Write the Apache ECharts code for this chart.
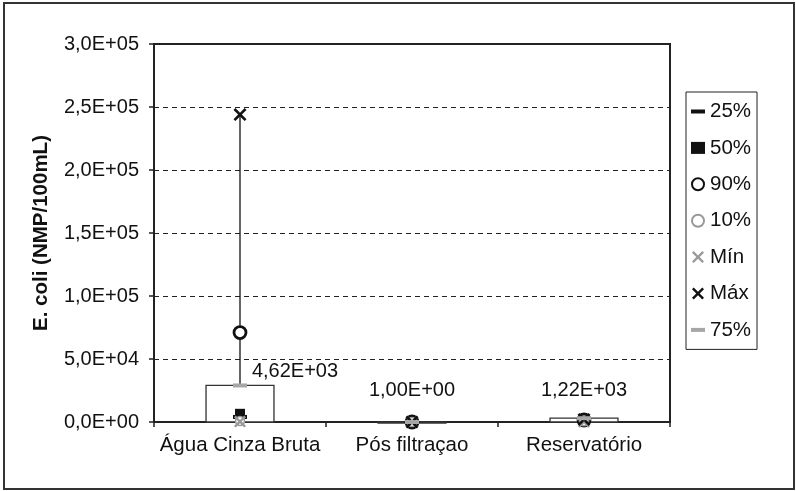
<!DOCTYPE html>
<html>
<head>
<meta charset="utf-8">
<script src="https://cdn.jsdelivr.net/npm/echarts@6/dist/echarts.min.js"></script>
<style>
html,body{margin:0;padding:0;background:#fff;}
#c{width:796px;height:491px;}
</style>
</head>
<body>
<div id="c"></div>
<script>
// ---- data ----
var categories = ['Água Cinza Bruta', 'Pós filtraçao', 'Reservatório'];
var p25 = [4000, 1, 900];
var p50 = [6500, 1, 1220];
var p90 = [71000, 1, 1600];
var p10 = [800, 1, 600];
var pMin = [300, 1, 100];
var pMax = [244000, 1, 2000];
var p75 = [29000, 1, 3000];
var labelValues = [4620, 1, 1220];
var yTicks = { min: 0, max: 300000, step: 50000 };

function sciFmt(v, digits) {
  var s = Number(v).toExponential(digits);
  var parts = s.split('e');
  var mant = parts[0].replace('.', ',');
  var exp = parseInt(parts[1], 10);
  var sign = exp < 0 ? '-' : '+';
  var e = Math.abs(exp);
  return mant + 'E' + sign + (e < 10 ? '0' + e : '' + e);
}

var FONT = 'Liberation Sans, Arial, sans-serif';
var X_PATH = 'path://M0,2L2,0L7,5L12,0L14,2L9,7L14,12L12,14L7,9L2,14L0,12L5,7Z';
var DASH_PATH = 'path://M0,0H14V4H0Z';
var labelOffsets = [[55, 0], [0, -18], [0, -14]];

var chart = echarts.init(document.getElementById('c'), null, { renderer: 'canvas' });

function markerSeries(name, data, symbol, size, style, z) {
  style.opacity = 1;
  return {
    name: name, type: 'scatter', data: data, symbol: symbol, symbolSize: size,
    itemStyle: style, z: z, silent: true
  };
}

var s75 = markerSeries('75%', p75, DASH_PATH, [14, 4], { color: '#a6a6a6' }, 17);
s75.label = {
  show: true, position: 'top', distance: 2,
  fontFamily: FONT, fontSize: 20, color: '#111', opacity: 1,
  formatter: function (p) { return sciFmt(labelValues[p.dataIndex], 2); }
};
s75.data = p75.map(function (v, i) {
  return { value: v, label: { offset: labelOffsets[i], color: '#111' } };
});

var option = {
  animation: false,
  backgroundColor: '#fff',
  grid: { left: 154, right: 126, top: 44, bottom: 69, show: true, borderColor: '#222', borderWidth: 2, backgroundColor: 'transparent' },
  xAxis: {
    type: 'category', data: categories,
    axisLine: { lineStyle: { color: '#222', width: 2 } },
    axisTick: { show: true, length: 5, lineStyle: { color: '#222', width: 1.5 } },
    axisLabel: { fontFamily: FONT, fontSize: 20.5, color: '#111', margin: 13, interval: 0 },
    splitLine: { show: false }
  },
  yAxis: {
    type: 'value', min: yTicks.min, max: yTicks.max, interval: yTicks.step,
    name: 'E. coli (NMP/100mL)', nameLocation: 'middle', nameGap: 102, nameRotate: 90,
    nameTextStyle: { fontFamily: FONT, fontSize: 20.5, fontWeight: 'bold', color: '#111' },
    axisLine: { show: true, lineStyle: { color: '#222', width: 2 } },
    axisTick: { show: true, length: 5, lineStyle: { color: '#222', width: 1.5 } },
    axisLabel: { fontFamily: FONT, fontSize: 20, color: '#111', margin: 15,
      formatter: function (v) { return sciFmt(v, 1); } },
    splitLine: { show: true, lineStyle: { color: '#222', type: [5, 4], width: 1 } }
  },
  legend: {
    orient: 'vertical', left: 686, top: 92,
    data: [
      { name: '25%', icon: DASH_PATH },
      { name: '50%' },
      { name: '90%' },
      { name: '10%' },
      { name: 'Mín' },
      { name: 'Máx' },
      { name: '75%', icon: DASH_PATH }
    ],
    itemWidth: 14, itemHeight: 12, itemGap: 15.4,
    padding: [9, 6, 9, 5],
    borderColor: '#222', borderWidth: 1,
    textStyle: { fontFamily: FONT, fontSize: 20.5, color: '#111' },
    selectedMode: false
  },
  series: [
    {
      name: 'box', type: 'custom', z: 5, silent: true,
      data: categories.map(function (c, i) { return [i, p75[i]]; }),
      renderItem: function (params, api) {
        var i = api.value(0);
        var top = api.coord([i, api.value(1)]);
        var bot = api.coord([i, 0]);
        var w = api.size([1, 0])[0] * 0.395;
        return {
          type: 'rect',
          shape: { x: top[0] - w / 2, y: top[1], width: w, height: Math.max(bot[1] - top[1], 1) },
          style: { fill: '#fff', stroke: '#333', lineWidth: 1.3 }
        };
      }
    },
    {
      name: 'whisker', type: 'custom', z: 6, silent: true,
      data: categories.map(function (c, i) { return [i, p75[i], pMax[i]]; }),
      renderItem: function (params, api) {
        var i = api.value(0);
        var a = api.coord([i, api.value(1)]);
        var b = api.coord([i, api.value(2)]);
        return {
          type: 'line',
          shape: { x1: a[0], y1: a[1], x2: b[0], y2: b[1] },
          style: { stroke: '#111', lineWidth: 1.3 }
        };
      }
    },
    markerSeries('25%', p25, DASH_PATH, [14, 4], { color: '#111' }, 10),
    markerSeries('50%', p50, 'rect', 10, { color: '#111' }, 11),
    markerSeries('90%', p90, 'circle', 12, { color: '#fff', borderColor: '#111', borderWidth: 2.8 }, 12),
    markerSeries('10%', p10, 'circle', 9, { color: '#fff', borderColor: '#999', borderWidth: 1.5 }, 13),
    markerSeries('Mín', pMin, X_PATH, 12, { color: '#9a9a9a' }, 14),
    markerSeries('Máx', pMax, X_PATH, 13, { color: '#111' }, 15),
    s75
  ],
  graphic: [
    { type: 'rect', left: 3, top: 2, shape: { width: 790, height: 486 },
      style: { fill: 'transparent', stroke: '#333', lineWidth: 2 }, silent: true, z: 100 }
  ]
};
chart.setOption(option);
</script>
</body>
</html>
